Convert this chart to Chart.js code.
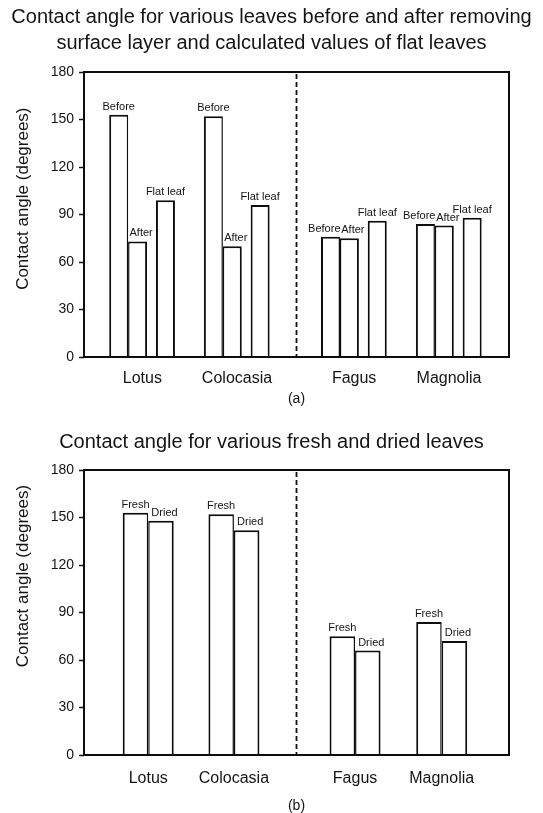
<!DOCTYPE html>
<html><head><meta charset="utf-8">
<script src="https://cdn.jsdelivr.net/npm/chart.js@4.4.1/dist/chart.umd.min.js"></script>
<style>
html,body{margin:0;padding:0;background:#fff;overflow:hidden;}
.box{position:relative;width:543px;}
canvas{display:block;}
</style></head><body>
<div class="box" style="height:406px"><canvas id="c1"></canvas></div>
<div class="box" style="height:407px"><canvas id="c2"></canvas></div>
<script>
// ---------------- data ----------------
const categories = ['Lotus', 'Colocasia', 'Fagus', 'Magnolia'];
const beforeValues = [153, 152, 76, 84];
const afterValues = [73, 70, 75, 83];
const flatLeafValues = [99, 96, 86, 88];
const freshValues = [153, 152, 75, 84];
const driedValues = [148, 142, 66, 72];
const yTickValues = [0, 30, 60, 90, 120, 150, 180];
const titleA = ['Contact angle for various leaves before and after removing', 'surface layer and calculated values of flat leaves'];
const titleB = 'Contact angle for various fresh and dried leaves';
const yTitle = 'Contact angle (degrees)';

// ---------------- layout / style ----------------
const FONT = '"Liberation Sans", Arial, Helvetica, sans-serif';
const INK = '#141414';
const LAYOUT_A = { groupX: [1.235, 3.24, 5.72, 7.73], offsets: [-0.5, -0.1, 0.49], barPx: 19,
  borders: [{ top: 2, left: 2, right: 1.5, bottom: 0 }, { top: 2, left: 1.5, right: 2, bottom: 0 }, { top: 2, left: 2, right: 2, bottom: 0 }] };
const LAYOUT_B = { groupX: [1.36, 3.175, 5.74, 7.575], offsets: [-0.27, 0.27], barPx: 25.5,
  borders: [{ top: 2, left: 2, right: 1.5, bottom: 0 }, { top: 2, left: 1.5, right: 2, bottom: 0 }] };

function place(values, groupX, off) { return values.map((v, i) => ({ x: groupX[i] + off, y: v })); }

function ds(label, values, L, k, align) {
  return {
    barLabel: label, labelAlign: align,
    data: place(values, L.groupX, L.offsets[k]),
    backgroundColor: '#ffffff', borderColor: '#0d0d0d', borderWidth: L.borders[k],
    barThickness: L.barPx, grouped: false, borderSkipped: 'bottom', inflateAmount: 0
  };
}

const framePlugin = {
  id: 'frame',
  beforeDatasetsDraw(chart, args, o) {
    const { ctx, chartArea: a, scales: { x } } = chart;
    const px = x.getPixelForValue(o.divider);
    ctx.save();
    ctx.strokeStyle = '#111'; ctx.lineWidth = 1.8; ctx.setLineDash([5, 3]);
    ctx.beginPath(); ctx.moveTo(px, a.top + 2); ctx.lineTo(px, a.bottom); ctx.stroke();
    ctx.restore();
  },
  afterDatasetsDraw(chart, args, o) {
    const { ctx, chartArea: a } = chart;
    ctx.save();
    ctx.strokeStyle = '#0d0d0d'; ctx.lineWidth = 2;
    ctx.strokeRect(a.left, a.top, a.right - a.left, a.bottom - a.top);
    ctx.font = '11px ' + FONT; ctx.fillStyle = INK; ctx.textBaseline = 'middle';
    chart.data.datasets.forEach((d, di) => {
      const meta = chart.getDatasetMeta(di);
      const next = chart.getDatasetMeta(di + 1);
      meta.data.forEach((el, i) => {
        const p = el.getProps(['x', 'y', 'width'], true);
        let tx = p.x, al = 'center';
        if (d.labelAlign === 'after') { tx = p.x + 3.5; }
        else if (d.labelAlign === 'auto' && next && next.data[i]) {
          const q = next.data[i].getProps(['y'], true);
          if (Math.abs(q.y - p.y) < 16) { tx = p.x + p.width / 2 + 0.5; al = 'right'; }
        }
        ctx.textAlign = al;
        ctx.fillText(d.barLabel, tx, p.y - 8);
      });
    });
    ctx.restore();
  },
  afterDraw(chart, args, o) {
    const { ctx, scales: { y } } = chart;
    ctx.save();
    ctx.font = '17px ' + FONT; ctx.fillStyle = INK;
    ctx.textAlign = 'center'; ctx.textBaseline = 'middle';
    ctx.translate(23, y.getPixelForValue(o.yTitleAt));
    ctx.rotate(-Math.PI / 2);
    ctx.fillText(yTitle, 0, 0);
    ctx.restore();
  }
};

function makeChart(id, cfg) {
  return new Chart(document.getElementById(id), {
    type: 'bar',
    data: { datasets: cfg.datasets },
    options: {
      responsive: true, maintainAspectRatio: false, animation: false,
      layout: { padding: 0 },
      plugins: {
        legend: { display: false }, tooltip: { enabled: false },
        title: { display: true, text: cfg.title, color: INK, padding: cfg.titlePad,
          font: { family: FONT, size: 20, weight: 'normal', lineHeight: 1.275 } },
        frame: { divider: 4.5, yTitleAt: cfg.yTitleAt }
      },
      scales: {
        x: {
          type: 'linear', min: 0, max: 9, offset: false,
          grid: { display: false, drawTicks: false }, border: { display: false },
          afterBuildTicks: s => { s.ticks = cfg.groupX.map(v => ({ value: v })); },
          ticks: { autoSkip: false, maxRotation: 0, padding: cfg.xLabelPad, color: INK,
            font: { family: FONT, size: 16 }, callback: (v, i) => categories[i] },
          title: { display: true, text: cfg.panel, color: INK, padding: 0,
            font: { family: FONT, size: 14, lineHeight: 1 } },
          afterFit: s => { s.height = cfg.xAxisH; }
        },
        y: {
          type: 'linear', position: 'left', min: 0, max: 180,
          afterBuildTicks: s => { s.ticks = yTickValues.map(v => ({ value: v })); },
          ticks: { padding: 5, color: INK, font: { family: FONT, size: 14 } },
          grid: { display: true, drawOnChartArea: false, drawTicks: true, tickLength: 5, tickColor: '#111', tickWidth: 1.5 },
          border: { display: false },
          afterFit: s => { s.width = 84; }
        },
        yRight: {
          type: 'linear', position: 'right', display: true,
          grid: { display: false }, border: { display: false }, ticks: { display: false },
          afterFit: s => { s.width = 34; }
        }
      }
    },
    plugins: [framePlugin]
  });
}

makeChart('c1', {
  title: titleA, titlePad: { top: 4.75, bottom: 16.25 }, panel: '(a)',
  xAxisH: 49, xLabelPad: 11.5, yTitleAt: 100, groupX: LAYOUT_A.groupX,
  datasets: [
    ds('Before', beforeValues, LAYOUT_A, 0, 'auto'),
    ds('After', afterValues, LAYOUT_A, 1, 'after'),
    ds('Flat leaf', flatLeafValues, LAYOUT_A, 2, 'center')
  ]
});

makeChart('c2', {
  title: titleB, titlePad: { top: 23.75, bottom: 14.75 }, panel: '(b)',
  xAxisH: 58, xLabelPad: 13.5, yTitleAt: 113, groupX: LAYOUT_B.groupX,
  datasets: [
    ds('Fresh', freshValues, LAYOUT_B, 0, 'center'),
    ds('Dried', driedValues, LAYOUT_B, 1, 'after')
  ]
});
</script>
</body></html>
